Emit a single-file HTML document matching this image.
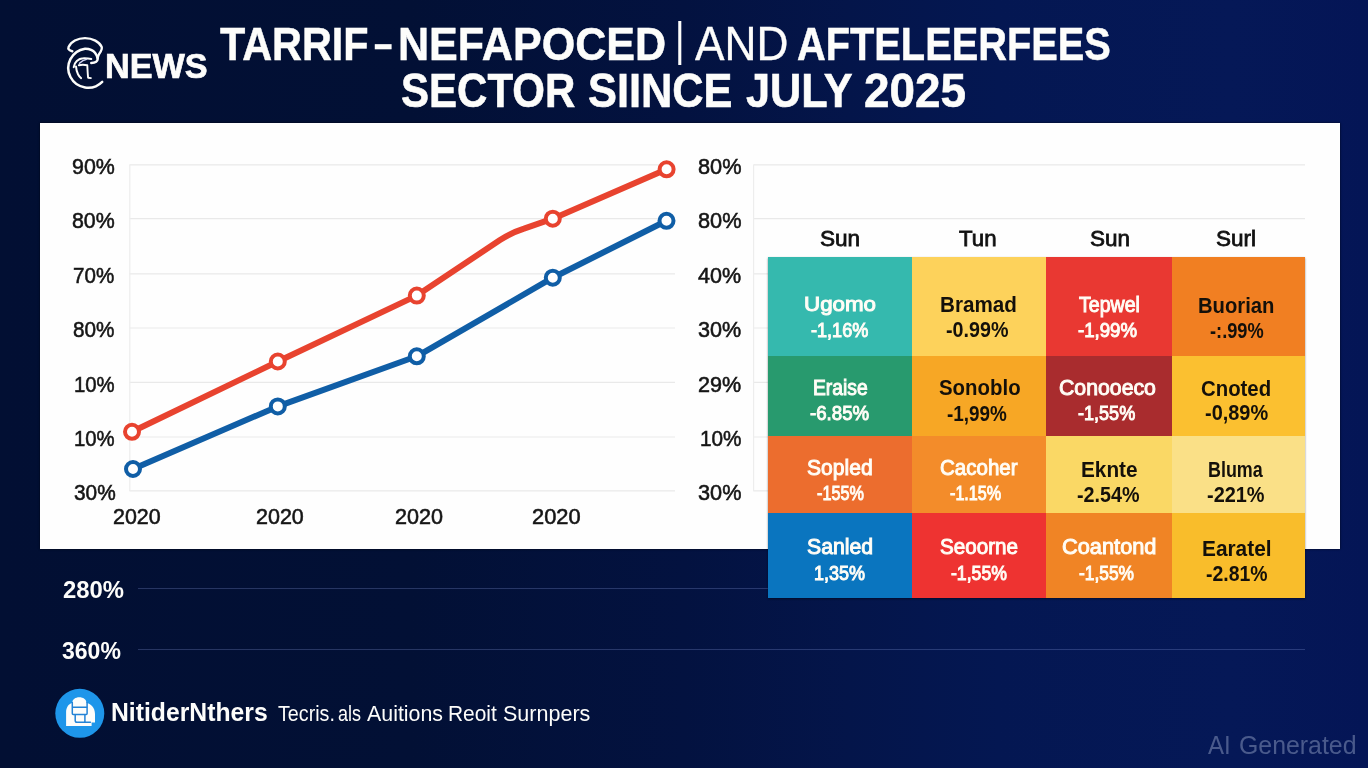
<!DOCTYPE html>
<html lang="en">
<head>
<meta charset="utf-8">
<title>Tariff-impacted sectors since July 2025</title>
<style>
html,body{margin:0;padding:0;background:#04123c;}
body{width:1368px;height:768px;overflow:hidden;font-family:"Liberation Sans",sans-serif;}
#stage{position:relative;width:1368px;height:768px;overflow:hidden;
 background:
  linear-gradient(90deg,#020f33 0%,#021035 30%,#031240 50%,#04154a 62%,#041752 73%,#051857 90%,#041556 100%);}
.t{position:absolute;white-space:nowrap;line-height:1;transform-origin:0 0;display:block;}
h1{margin:0;font-size:0;font-weight:400;}
header{position:absolute;left:0;top:0;width:1368px;height:123px;}
#panel{position:absolute;left:40px;top:123px;width:1299.6px;height:425.8px;background:#fefefe;box-shadow:0 0 2px rgba(0,0,10,.8);}
#panel svg{position:absolute;left:0;top:0;}
#heat{position:absolute;left:768px;top:257px;width:536.6px;height:341px;overflow:hidden;box-shadow:0 1px 2px rgba(0,0,0,.45);}
.cell{position:absolute;}
.hline{position:absolute;height:1px;background:rgba(140,160,225,.27);box-shadow:0 0 1px rgba(140,160,225,.12);}
#logo{position:absolute;left:60px;top:30px;}
#ficon{position:absolute;left:50px;top:683px;}
</style>
</head>
<body>
<div id="stage">

<header>
<svg id="logo" width="50" height="64" viewBox="60 30 50 64" fill="none" stroke="#fdfdfb" stroke-linecap="round" stroke-linejoin="round">
 <path d="M102.2 81.8 A19.8 19.6 0 1 1 85 48.7 C89.4 48.6 93 50.2 95 52.8 C96.6 54.8 97.8 57.2 97.7 59 C97.5 61.6 94.8 62.8 91.3 62.9" stroke-width="2.5"/>
 <path d="M72.3 51.2 C69 50.6 67.8 48.8 68.6 46.9 C71 41.6 77.6 38.1 85 38.1 C92.6 38.1 99.4 41.8 101.6 46.8 C102.6 49.2 100.6 51.8 99.2 53.9 C98.4 55.2 98 56.6 97.7 58" stroke-width="2.4"/>
 <path d="M73.7 67.2 C74 64.6 75 62.6 76.8 60.9 C78.6 59.2 80.8 58.3 83.4 58.2 C86.2 58 88.8 58.4 91.3 59" stroke-width="2"/>
 <path d="M76 66.4 C76.2 69.2 76.8 71.8 78 74.2 C78.8 75.8 79.8 77.2 81.1 78.1" stroke-width="2"/>
 <path d="M78.8 65.2 C81.4 64.6 84 64.6 87.3 65.2 C87.5 69.4 87.7 73.6 88.1 77.7 L90.9 78.1" stroke-width="1.9"/>
 <path d="M79.5 63.3 C81.4 61.4 84 59.8 86.6 59.3" stroke-width="1.5" stroke="#cfd2f4"/>
</svg>
<span class="t" style="left:104.72px;top:49.00px;font-size:34.24px;font-weight:700;color:#fdfdfb;-webkit-text-stroke:.7px #fdfdfb;transform:scaleX(0.9997)">NEWS</span>
<h1>
<span class="t" style="left:220.41px;top:21.01px;font-size:46.76px;font-weight:700;color:#fdfdfb;-webkit-text-stroke:.5px #fdfdfb;transform:scaleX(0.8845)">TARRIF</span>
<span class="t" style="left:374.39px;top:20.01px;font-size:46.76px;font-weight:700;color:#fdfdfb;-webkit-text-stroke:.5px #fdfdfb;transform:scaleX(0.7035)">–</span>
<span class="t" style="left:397.93px;top:21.01px;font-size:46.76px;font-weight:700;color:#fdfdfb;-webkit-text-stroke:.5px #fdfdfb;transform:scaleX(0.9218)">NEFAPOCED</span>
<span class="t" style="left:675.18px;top:16.01px;font-size:46.38px;color:#fdfdfb;transform:scaleX(0.7906)">|</span>
<span class="t" style="left:694.66px;top:20.00px;font-size:47.32px;color:#fdfdfb;-webkit-text-stroke:.35px #fdfdfb;transform:scaleX(0.9344)">AND</span>
<span class="t" style="left:797.22px;top:21.01px;font-size:46.76px;font-weight:700;color:#fdfdfb;-webkit-text-stroke:.5px #fdfdfb;transform:scaleX(0.8510)">AFTELEERFEES</span>
<span class="t" style="left:400.82px;top:67.00px;font-size:47.34px;font-weight:700;color:#fdfdfb;-webkit-text-stroke:.6px #fdfdfb;transform:scaleX(0.8881)">SECTOR</span>
<span class="t" style="left:588.39px;top:67.00px;font-size:47.34px;font-weight:700;color:#fdfdfb;-webkit-text-stroke:.6px #fdfdfb;transform:scaleX(0.9158)">SIINCE</span>
<span class="t" style="left:745.73px;top:67.00px;font-size:47.34px;font-weight:700;color:#fdfdfb;-webkit-text-stroke:.6px #fdfdfb;transform:scaleX(0.9131)">JULY</span>
<span class="t" style="left:864.22px;top:67.00px;font-size:47.34px;font-weight:700;color:#fdfdfb;-webkit-text-stroke:.6px #fdfdfb;transform:scaleX(0.9675)">2025</span>
</h1>
</header>

<div id="panel">
<svg width="1300" height="426" viewBox="40 123 1300 426">
 <g stroke="#e9e9e9" stroke-width="1.2" fill="none">
  <path d="M129.5 164.8H675M129.5 218.7H675M129.5 273.9H675M129.5 328H675M129.5 382.4H675M129.5 437H675M129.5 490.9H675"/>
  <path d="M129.8 164.8V491" stroke="#ededed"/>
  <path d="M753.4 164.8H1305M753.4 218.7H1305M753.4 273.9H1305M753.4 328H1305M753.4 382.4H1305M753.4 437H1305M753.4 490.9H1305"/>
  <path d="M753.6 164.8V491" stroke="#ededed"/>
 </g>
 <g fill="none" stroke-width="6" stroke-linejoin="round" stroke-linecap="round">
  <path d="M133 469 L277.8 406.4 L416.8 356.3 L552.8 277.7 L666.5 220.8" stroke="#105ea6"/>
  <path d="M132 431.8 L277.8 361.5 L416.8 295.6 L500 240 Q512 232.4 524 228.6 L552.8 218.7 L666.6 169.3" stroke="#e8432f"/>
 </g>
 <g fill="#fff" stroke-width="4" stroke="#105ea6">
  <circle cx="133" cy="469" r="7"/><circle cx="277.8" cy="406.4" r="7"/><circle cx="416.8" cy="356.3" r="7"/><circle cx="552.8" cy="277.7" r="7"/><circle cx="666.5" cy="220.8" r="7"/>
 </g>
 <g fill="#fff" stroke-width="4" stroke="#e8432f">
  <circle cx="132" cy="431.8" r="7"/><circle cx="277.8" cy="361.5" r="7"/><circle cx="416.8" cy="295.6" r="7"/><circle cx="552.8" cy="218.7" r="7"/><circle cx="666.6" cy="169.3" r="7"/>
 </g>
</svg>
<span class="t" style="left:32.11px;top:33.01px;font-size:21.81px;color:#151515;-webkit-text-stroke:.55px #151515;transform:scaleX(0.9817)">90%</span>
<span class="t" style="left:32.22px;top:87.02px;font-size:21.81px;color:#151515;-webkit-text-stroke:.55px #151515;transform:scaleX(0.9792)">80%</span>
<span class="t" style="left:33.23px;top:142.01px;font-size:21.81px;color:#151515;-webkit-text-stroke:.55px #151515;transform:scaleX(0.9441)">70%</span>
<span class="t" style="left:33.43px;top:196.00px;font-size:21.81px;color:#151515;-webkit-text-stroke:.55px #151515;transform:scaleX(0.9510)">80%</span>
<span class="t" style="left:34.23px;top:251.01px;font-size:21.81px;color:#151515;-webkit-text-stroke:.55px #151515;transform:scaleX(0.9325)">10%</span>
<span class="t" style="left:34.23px;top:305.00px;font-size:21.81px;color:#151515;-webkit-text-stroke:.55px #151515;transform:scaleX(0.9325)">10%</span>
<span class="t" style="left:33.53px;top:359.01px;font-size:21.81px;color:#151515;-webkit-text-stroke:.55px #151515;transform:scaleX(0.9556)">30%</span>
<span class="t" style="left:657.70px;top:33.01px;font-size:21.81px;color:#151515;-webkit-text-stroke:.55px #151515;transform:scaleX(0.9980)">80%</span>
<span class="t" style="left:657.70px;top:87.02px;font-size:21.81px;color:#151515;-webkit-text-stroke:.55px #151515;transform:scaleX(0.9980)">80%</span>
<span class="t" style="left:658.14px;top:142.01px;font-size:21.81px;color:#151515;-webkit-text-stroke:.55px #151515;transform:scaleX(0.9879)">40%</span>
<span class="t" style="left:658.42px;top:196.00px;font-size:21.81px;color:#151515;-webkit-text-stroke:.55px #151515;transform:scaleX(0.9908)">30%</span>
<span class="t" style="left:658.09px;top:251.01px;font-size:21.81px;color:#151515;-webkit-text-stroke:.55px #151515;transform:scaleX(0.9890)">29%</span>
<span class="t" style="left:659.71px;top:305.00px;font-size:21.81px;color:#151515;-webkit-text-stroke:.55px #151515;transform:scaleX(0.9517)">10%</span>
<span class="t" style="left:658.41px;top:359.01px;font-size:21.81px;color:#151515;-webkit-text-stroke:.55px #151515;transform:scaleX(0.9955)">30%</span>
<span class="t" style="left:73.10px;top:383.02px;font-size:21.67px;color:#151515;-webkit-text-stroke:.55px #151515;transform:scaleX(0.9895)">2020</span>
<span class="t" style="left:216.20px;top:383.02px;font-size:21.67px;color:#151515;-webkit-text-stroke:.55px #151515;transform:scaleX(0.9917)">2020</span>
<span class="t" style="left:354.79px;top:383.02px;font-size:21.67px;color:#151515;-webkit-text-stroke:.55px #151515;transform:scaleX(0.9959)">2020</span>
<span class="t" style="left:491.88px;top:383.02px;font-size:21.67px;color:#151515;-webkit-text-stroke:.55px #151515;transform:scaleX(1.0087)">2020</span>
<span class="t" style="left:779.99px;top:105.00px;font-size:22.46px;color:#111;-webkit-text-stroke:.8px #111;transform:scaleX(1.0058)">Sun</span>
<span class="t" style="left:918.85px;top:105.00px;font-size:22.46px;color:#111;-webkit-text-stroke:.8px #111;transform:scaleX(0.9906)">Tun</span>
<span class="t" style="left:1049.99px;top:105.00px;font-size:22.46px;color:#111;-webkit-text-stroke:.8px #111;transform:scaleX(1.0006)">Sun</span>
<span class="t" style="left:1175.99px;top:105.00px;font-size:22.46px;color:#111;-webkit-text-stroke:.8px #111;transform:scaleX(1.0017)">Surl</span>
</div>

<div class="hline" style="left:137.5px;top:588px;width:1167.5px"></div>
<div class="hline" style="left:137.5px;top:648.5px;width:1167.5px"></div>

<div id="heat">
<div class="cell" style="left:0px;top:0px;width:144px;height:99px;background:#35b9ae"><span class="t" style="left:36.16px;top:36.01px;font-size:21.01px;color:#fffdf6;-webkit-text-stroke:1px #fffdf6;transform:scaleX(1.0635)">Ugomo</span><span class="t" style="left:43.14px;top:64.01px;font-size:19.71px;color:#fffdf6;-webkit-text-stroke:1px #fffdf6;transform:scaleX(0.9179)">-1,16%</span></div>
<div class="cell" style="left:144px;top:0px;width:133.5px;height:99px;background:#fdd25b"><span class="t" style="left:28.46px;top:36.01px;font-size:22.73px;font-weight:700;color:#14100a;transform:scaleX(0.9086)">Bramad</span><span class="t" style="left:34.01px;top:62.01px;font-size:21.15px;font-weight:700;color:#14100a;transform:scaleX(0.9322)">-0.99%</span></div>
<div class="cell" style="left:277.5px;top:0px;width:126.5px;height:99px;background:#e93832"><span class="t" style="left:33.26px;top:38.01px;font-size:21.45px;color:#fffdf6;-webkit-text-stroke:1px #fffdf6;transform:scaleX(0.9120)">Tepwel</span><span class="t" style="left:32.22px;top:63.01px;font-size:20.00px;color:#fffdf6;-webkit-text-stroke:1px #fffdf6;transform:scaleX(0.9318)">-1,99%</span></div>
<div class="cell" style="left:404px;top:0px;width:132.6px;height:99px;background:#f17f22"><span class="t" style="left:26.38px;top:37.00px;font-size:22.73px;font-weight:700;color:#14100a;transform:scaleX(0.8903)">Buorian</span><span class="t" style="left:38.36px;top:64.00px;font-size:21.29px;font-weight:700;color:#14100a;transform:scaleX(0.8560)">-:.99%</span></div>
<div class="cell" style="left:0px;top:99px;width:144px;height:80.4px;background:#289a6e"><span class="t" style="left:45.31px;top:21.01px;font-size:21.16px;color:#fffdf6;-webkit-text-stroke:1px #fffdf6;transform:scaleX(0.9107)">Eraise</span><span class="t" style="left:41.90px;top:47.01px;font-size:20.72px;color:#fffdf6;-webkit-text-stroke:1px #fffdf6;transform:scaleX(0.9000)">-6.85%</span></div>
<div class="cell" style="left:144px;top:99px;width:133.5px;height:80.4px;background:#f7a725"><span class="t" style="left:26.79px;top:21.00px;font-size:22.59px;font-weight:700;color:#14100a;transform:scaleX(0.9037)">Sonoblo</span><span class="t" style="left:34.54px;top:47.00px;font-size:21.73px;font-weight:700;color:#14100a;transform:scaleX(0.8703)">-1,99%</span></div>
<div class="cell" style="left:277.5px;top:99px;width:126.5px;height:80.4px;background:#a92c2e"><span class="t" style="left:13.93px;top:21.01px;font-size:21.59px;color:#fffdf6;-webkit-text-stroke:1px #fffdf6;transform:scaleX(0.9850)">Conooeco</span><span class="t" style="left:32.92px;top:47.01px;font-size:20.29px;color:#fffdf6;-webkit-text-stroke:1px #fffdf6;transform:scaleX(0.8905)">-1,55%</span></div>
<div class="cell" style="left:404px;top:99px;width:132.6px;height:80.4px;background:#fbc030"><span class="t" style="left:29.19px;top:21.01px;font-size:22.88px;font-weight:700;color:#14100a;transform:scaleX(0.8904)">Cnoted</span><span class="t" style="left:33.30px;top:46.01px;font-size:21.58px;font-weight:700;color:#14100a;transform:scaleX(0.9240)">-0,89%</span></div>
<div class="cell" style="left:0px;top:179.4px;width:144px;height:76.4px;background:#ec6d2e"><span class="t" style="left:39.13px;top:20.61px;font-size:22.03px;color:#fffdf6;-webkit-text-stroke:1px #fffdf6;transform:scaleX(0.9575)">Sopled</span><span class="t" style="left:49.16px;top:46.61px;font-size:20.00px;color:#fffdf6;-webkit-text-stroke:1px #fffdf6;transform:scaleX(0.8094)">-155%</span></div>
<div class="cell" style="left:144px;top:179.4px;width:133.5px;height:76.4px;background:#f38c2a"><span class="t" style="left:27.84px;top:20.61px;font-size:22.03px;color:#fffdf6;-webkit-text-stroke:1px #fffdf6;transform:scaleX(0.9327)">Cacoher</span><span class="t" style="left:38.26px;top:46.61px;font-size:20.00px;color:#fffdf6;-webkit-text-stroke:1px #fffdf6;transform:scaleX(0.8078)">-1.15%</span></div>
<div class="cell" style="left:277.5px;top:179.4px;width:126.5px;height:76.4px;background:#fad865"><span class="t" style="left:35.15px;top:22.61px;font-size:22.45px;font-weight:700;color:#14100a;transform:scaleX(0.9258)">Eknte</span><span class="t" style="left:31.81px;top:47.61px;font-size:21.73px;font-weight:700;color:#14100a;transform:scaleX(0.9088)">-2.54%</span></div>
<div class="cell" style="left:404px;top:179.4px;width:132.6px;height:76.4px;background:#fae087"><span class="t" style="left:36.03px;top:22.61px;font-size:22.45px;font-weight:700;color:#14100a;transform:scaleX(0.7988)">Bluma</span><span class="t" style="left:34.70px;top:47.61px;font-size:21.73px;font-weight:700;color:#14100a;transform:scaleX(0.9167)">-221%</span></div>
<div class="cell" style="left:0px;top:255.8px;width:144px;height:85.2px;background:#0a75bf"><span class="t" style="left:39.13px;top:23.21px;font-size:22.03px;color:#fffdf6;-webkit-text-stroke:1px #fffdf6;transform:scaleX(0.9649)">Sanled</span><span class="t" style="left:46.10px;top:50.21px;font-size:20.14px;color:#fffdf6;-webkit-text-stroke:1px #fffdf6;transform:scaleX(0.8943)">1,35%</span></div>
<div class="cell" style="left:144px;top:255.8px;width:133.5px;height:85.2px;background:#ee3331"><span class="t" style="left:27.94px;top:23.21px;font-size:22.03px;color:#fffdf6;-webkit-text-stroke:1px #fffdf6;transform:scaleX(0.9382)">Seoorne</span><span class="t" style="left:38.73px;top:50.21px;font-size:20.14px;color:#fffdf6;-webkit-text-stroke:1px #fffdf6;transform:scaleX(0.8765)">-1,55%</span></div>
<div class="cell" style="left:277.5px;top:255.8px;width:126.5px;height:85.2px;background:#f08425"><span class="t" style="left:16.20px;top:23.21px;font-size:22.03px;color:#fffdf6;-webkit-text-stroke:1px #fffdf6;transform:scaleX(0.9894)">Coantond</span><span class="t" style="left:33.94px;top:50.21px;font-size:20.14px;color:#fffdf6;-webkit-text-stroke:1px #fffdf6;transform:scaleX(0.8623)">-1,55%</span></div>
<div class="cell" style="left:404px;top:255.8px;width:132.6px;height:85.2px;background:#f9bd2b"><span class="t" style="left:30.04px;top:24.22px;font-size:22.88px;font-weight:700;color:#14100a;transform:scaleX(0.9116)">Earatel</span><span class="t" style="left:33.52px;top:50.21px;font-size:22.01px;font-weight:700;color:#14100a;transform:scaleX(0.8826)">-2.81%</span></div>
</div>

<span class="t" style="left:63.08px;top:579.00px;font-size:23.31px;font-weight:700;color:#fdfdfb;transform:scaleX(1.0248)">280%</span>
<span class="t" style="left:61.94px;top:640.01px;font-size:23.17px;font-weight:700;color:#fdfdfb;transform:scaleX(0.9942)">360%</span>

<footer>
<svg id="ficon" width="60" height="60" viewBox="50 683 60 60">
 <circle cx="79.8" cy="713.3" r="24.5" fill="#1e96ea"/>
 <path d="M66.1 726 V712 C66.1 707 69 703.4 72.4 702.9 V702.4 C72.4 699.4 75.4 697.3 79.3 697.3 C83.2 697.3 86.3 699.4 86.3 702.4 V702.9 C90.6 703.2 95 707.4 95 714 V722.6 H91.6 V726 Z" fill="#fdfdfb"/>
 <g fill="none" stroke="#2383d6" stroke-width="1.5" stroke-linejoin="round" stroke-linecap="round">
  <path d="M72.3 702.6 V713.6 Q72.3 714.4 73.2 714.4 H86.2 Q87.1 714.4 87.1 713.6 V702.8"/>
  <path d="M72.6 707.2 H86.6"/>
  <path d="M75.2 715 V720.4 Q75.2 722.2 77 722.2 H90.4"/>
  <path d="M84.9 715 V722"/>
 </g>
</svg>
<span class="t" style="left:111.09px;top:700.01px;font-size:24.89px;font-weight:700;color:#fdfdfb;transform:scaleX(0.9945)">NitiderNthers</span>
<span class="t" style="left:278.01px;top:702.01px;font-size:22.90px;color:#fdfdfb;transform:scaleX(0.8604)">Tecris.</span>
<span class="t" style="left:338.08px;top:702.01px;font-size:22.90px;color:#fdfdfb;transform:scaleX(0.7875)">als</span>
<span class="t" style="left:366.50px;top:702.01px;font-size:22.90px;color:#fdfdfb;transform:scaleX(0.9335)">Auitions</span>
<span class="t" style="left:448.03px;top:702.01px;font-size:22.90px;color:#fdfdfb;transform:scaleX(0.9135)">Reoit</span>
<span class="t" style="left:503.03px;top:702.01px;font-size:22.90px;color:#fdfdfb;transform:scaleX(0.9409)">Surnpers</span>
</footer>

<span class="t" style="left:1208.40px;top:733.00px;font-size:24.93px;color:rgba(120,135,175,.6);transform:scaleX(0.9642)">AI</span>
<span class="t" style="left:1239.46px;top:733.00px;font-size:24.93px;color:rgba(120,135,175,.6);transform:scaleX(0.9979)">Generated</span>
</div>
</body>
</html>
